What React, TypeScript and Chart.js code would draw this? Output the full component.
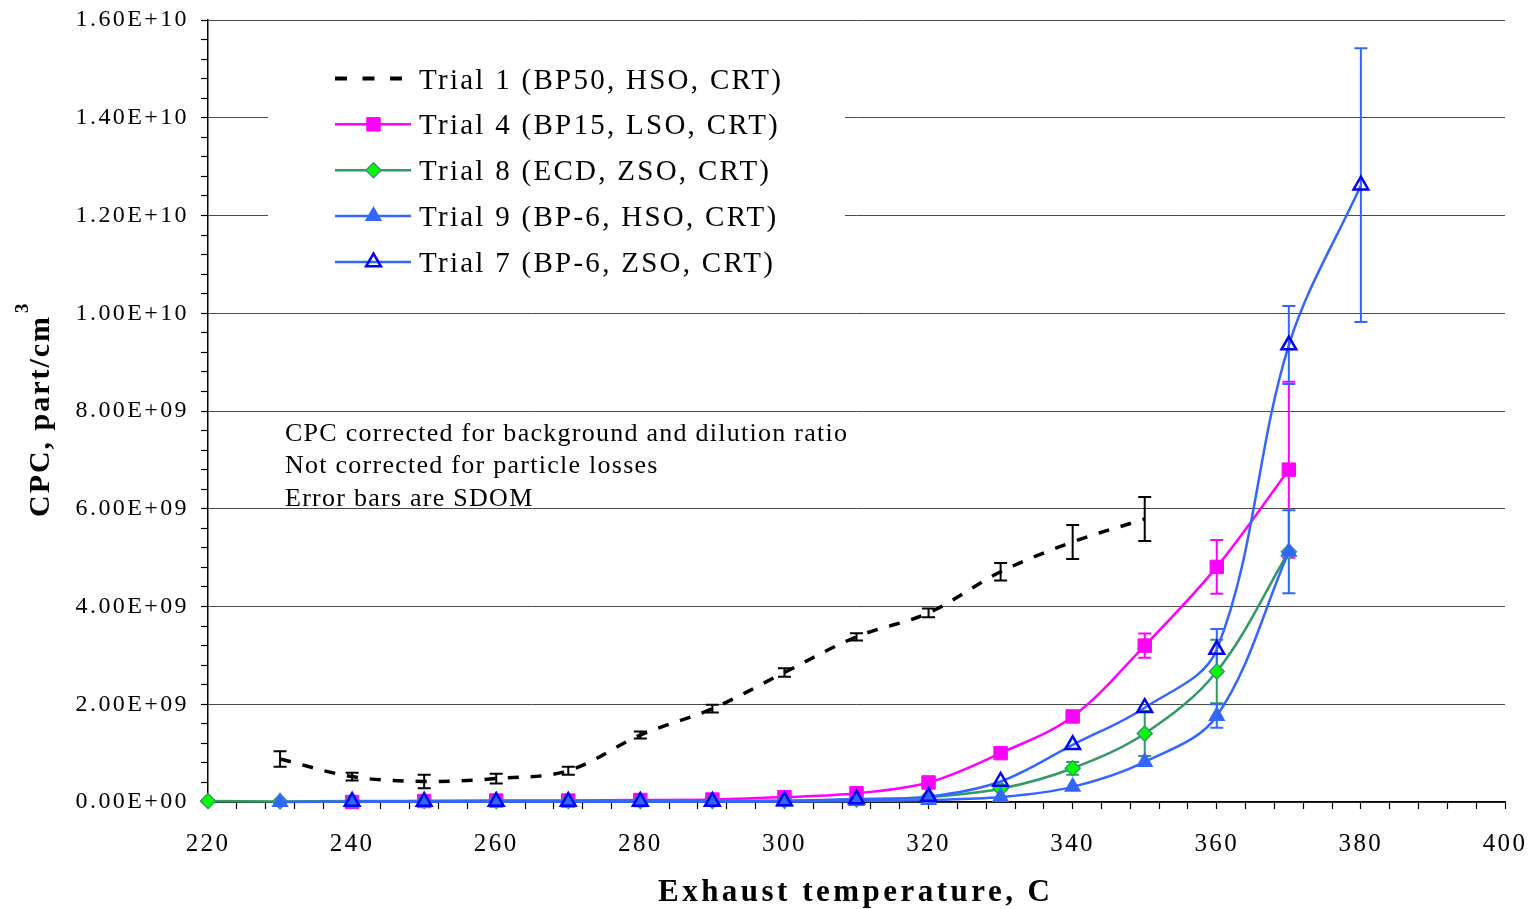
import React, { useEffect, useRef } from 'react';
import { Chart, registerables } from 'chart.js';

Chart.register(...registerables);

// ---- Data (x = exhaust temperature, C; y = CPC, part/cm3) ----
const trial1X = [230, 240, 250, 260, 270, 280, 290, 300, 310, 320, 330, 340, 350];
const trial1Y = [0.88e9, 0.52e9, 0.42e9, 0.48e9, 0.64e9, 1.37e9, 1.91e9, 2.65e9, 3.38e9, 3.87e9, 4.71e9, 5.32e9, 5.79e9];
const trial1Err = [0.16e9, 0.08e9, 0.14e9, 0.1e9, 0.08e9, 0.07e9, 0.08e9, 0.085e9, 0.075e9, 0.09e9, 0.18e9, 0.35e9, 0.45e9];

const trial4X = [240, 250, 260, 270, 280, 290, 300, 310, 320, 330, 340, 350, 360, 370];
const trial4Y = [0.0e9, 0.02e9, 0.03e9, 0.03e9, 0.04e9, 0.05e9, 0.1e9, 0.18e9, 0.4e9, 1.0e9, 1.75e9, 3.2e9, 4.81e9, 6.8e9];
const trial4Err = [0, 0, 0, 0, 0, 0, 0, 0, 0, 0, 0.04e9, 0.25e9, 0.55e9, 1.8e9];

const trial8X = [220, 230, 240, 250, 260, 270, 280, 290, 300, 310, 320, 330, 340, 350, 360, 370];
const trial8Y = [0.02e9, 0.01e9, 0.02e9, 0.02e9, 0.02e9, 0.02e9, 0.02e9, 0.02e9, 0.03e9, 0.05e9, 0.1e9, 0.27e9, 0.69e9, 1.4e9, 2.67e9, 5.12e9];
const trial8Err = [0, 0, 0, 0, 0, 0, 0, 0, 0, 0, 0, 0, 0.13e9, 0.46e9, 0.65e9, 0];

const trial9X = [230, 240, 250, 260, 270, 280, 290, 300, 310, 320, 330, 340, 350, 360, 370];
const trial9Y = [0.0e9, 0.01e9, 0.01e9, 0.01e9, 0.01e9, 0.01e9, 0.01e9, 0.01e9, 0.02e9, 0.04e9, 0.1e9, 0.31e9, 0.82e9, 1.76e9, 5.12e9];
const trial9Err = [0, 0, 0, 0, 0, 0, 0, 0, 0, 0, 0, 0, 0, 0.24e9, 0.85e9];

const trial7X = [240, 250, 260, 270, 280, 290, 300, 310, 320, 330, 340, 350, 360, 370, 380];
const trial7Y = [0.01e9, 0.01e9, 0.01e9, 0.01e9, 0.01e9, 0.01e9, 0.02e9, 0.06e9, 0.11e9, 0.42e9, 1.17e9, 1.93e9, 3.12e9, 9.35e9, 12.62e9];
const trial7Err = [0, 0, 0, 0, 0, 0, 0, 0, 0, 0, 0, 0, 0.42e9, 0.8e9, 2.8e9];

const legendLabels = [
  'Trial 1 (BP50, HSO, CRT)',
  'Trial 4 (BP15, LSO, CRT)',
  'Trial 8 (ECD, ZSO, CRT)',
  'Trial 9 (BP-6, HSO, CRT)',
  'Trial 7 (BP-6, ZSO, CRT)',
];
const noteLines = [
  'CPC corrected for background and dilution ratio',
  'Not corrected for particle losses',
  'Error bars are SDOM',
];
const xTitle = 'Exhaust temperature, C';
const yTitleMain = 'CPC, part/cm';
const yTitleSup = '3';

const X_MIN = 220;
const X_MAX = 400;
const X_STEP = 4;
const X_MAJOR = 20;
const Y_MIN = 0;
const Y_MAX = 1.6e10;
const Y_STEP = 4e8;
const Y_MAJOR = 2e9;

const SERIF = "'Liberation Serif', 'Times New Roman', serif";

const pts = (xs: number[], ys: number[]) => xs.map((x, i) => ({ x, y: ys[i] }));

function sci(v: number): string {
  if (v === 0) return '0.00E+00';
  const e = Math.floor(Math.log10(v) + 1e-9);
  const m = v / Math.pow(10, e);
  return m.toFixed(2) + 'E+' + String(e).padStart(2, '0');
}

const isMultiple = (v: number, step: number) => {
  const r = v / step;
  return Math.abs(r - Math.round(r)) < 1e-6;
};

type Style = {
  line: string;
  dash?: number[];
  width: number;
  marker: 'none' | 'rect' | 'rectRot' | 'triangle';
  fill: string;
  stroke: string;
  radius: number;
  strokeWidth: number;
};

const styles: Style[] = [
  { line: '#000000', dash: [11, 12], width: 3.5, marker: 'none', fill: '#000', stroke: '#000', radius: 0, strokeWidth: 0 },
  { line: '#FF00FF', width: 2.5, marker: 'rect', fill: '#FF00FF', stroke: '#FF00FF', radius: 9.5, strokeWidth: 1 },
  { line: '#339966', width: 2.5, marker: 'rectRot', fill: '#00FF00', stroke: '#339966', radius: 7.5, strokeWidth: 1.5 },
  { line: '#3366FF', width: 2.5, marker: 'triangle', fill: '#3366FF', stroke: '#3366FF', radius: 8.5, strokeWidth: 1.5 },
  { line: '#3366FF', width: 2.5, marker: 'triangle', fill: 'rgba(0,0,0,0)', stroke: '#0000FF', radius: 8.5, strokeWidth: 2.5 },
];

const errors = [trial1Err, trial4Err, trial8Err, trial9Err, trial7Err];

function drawMarker(ctx: CanvasRenderingContext2D, s: Style, x: number, y: number) {
  if (s.marker === 'none') return;
  ctx.save();
  ctx.beginPath();
  const r = s.radius;
  if (s.marker === 'rect') {
    const h = r * Math.SQRT1_2;
    ctx.rect(x - h, y - h, 2 * h, 2 * h);
  } else if (s.marker === 'rectRot') {
    ctx.moveTo(x - r, y);
    ctx.lineTo(x, y - r);
    ctx.lineTo(x + r, y);
    ctx.lineTo(x, y + r);
    ctx.closePath();
  } else {
    for (let k = 0; k < 3; k++) {
      const a = (k * 2 * Math.PI) / 3;
      const px = x + Math.sin(a) * r;
      const py = y - Math.cos(a) * r;
      if (k === 0) ctx.moveTo(px, py);
      else ctx.lineTo(px, py);
    }
    ctx.closePath();
  }
  ctx.fillStyle = s.fill;
  ctx.fill();
  if (s.strokeWidth > 0) {
    ctx.lineWidth = s.strokeWidth;
    ctx.strokeStyle = s.stroke;
    ctx.stroke();
  }
  ctx.restore();
}

function spacingFor(ctx: CanvasRenderingContext2D, text: string, font: string, target: number) {
  ctx.font = font;
  (ctx as any).letterSpacing = '0px';
  const w = ctx.measureText(text).width;
  const n = Array.from(text).length;
  return n > 1 ? (target - w) / (n - 1) : 0;
}

const errorBarPlugin = {
  id: 'errorBars',
  beforeDatasetsDraw(chart: any) {
    const ctx: CanvasRenderingContext2D = chart.ctx;
    const xs = chart.scales.x;
    const ys = chart.scales.y;
    ctx.save();
    chart.data.datasets.forEach((ds: any, i: number) => {
      const errs = errors[i];
      ctx.strokeStyle = styles[i].line;
      ctx.lineWidth = 2;
      ctx.setLineDash([]);
      ds.data.forEach((p: any, j: number) => {
        const e = errs[j];
        if (!e) return;
        const px = xs.getPixelForValue(p.x);
        const top = ys.getPixelForValue(p.y + e);
        const bot = ys.getPixelForValue(p.y - e);
        const cap = 6.5;
        ctx.beginPath();
        ctx.moveTo(px, top);
        ctx.lineTo(px, bot);
        ctx.moveTo(px - cap, top);
        ctx.lineTo(px + cap, top);
        ctx.moveTo(px - cap, bot);
        ctx.lineTo(px + cap, bot);
        ctx.stroke();
      });
    });
    ctx.restore();
  },
};

const textPlugin = {
  id: 'texts',
  beforeDraw(chart: any) {
    (chart.ctx as any).letterSpacing = '2.4px';
  },
  afterDraw(chart: any) {
    const ctx: CanvasRenderingContext2D = chart.ctx;
    ctx.save();
    (ctx as any).letterSpacing = '0px';

    // legend
    ctx.fillStyle = '#ffffff';
    ctx.fillRect(268, 48, 577, 240);
    const legFont = `29px ${SERIF}`;
    const legSp = spacingFor(ctx, legendLabels[0], legFont, 362);
    const rows = [78.5, 124.3, 170.2, 216.1, 262];
    legendLabels.forEach((lab, i) => {
      const y = rows[i];
      const s = styles[i];
      ctx.save();
      ctx.strokeStyle = s.line;
      ctx.lineWidth = i === 0 ? 4 : s.width;
      if (s.dash) ctx.setLineDash([12, 15.5]);
      ctx.beginPath();
      ctx.moveTo(335, y);
      ctx.lineTo(411, y);
      ctx.stroke();
      ctx.restore();
      drawMarker(ctx, s, 373.5, y);
      ctx.fillStyle = '#000';
      ctx.font = legFont;
      ctx.textAlign = 'left';
      ctx.textBaseline = 'alphabetic';
      (ctx as any).letterSpacing = legSp + 'px';
      ctx.fillText(lab, 419, y + 10);
      (ctx as any).letterSpacing = '0px';
    });

    // note text
    const noteFont = `26px ${SERIF}`;
    const noteSp = spacingFor(ctx, noteLines[0], noteFont, 562);
    const noteBase = [440.5, 473, 505.5];
    ctx.fillStyle = '#000';
    noteLines.forEach((t, i) => {
      ctx.font = noteFont;
      (ctx as any).letterSpacing = noteSp + 'px';
      ctx.fillText(t, 285, noteBase[i]);
    });
    (ctx as any).letterSpacing = '0px';

    // x title
    const xtFont = `bold 31px ${SERIF}`;
    const xtSp = spacingFor(ctx, xTitle, xtFont, 392);
    ctx.font = xtFont;
    (ctx as any).letterSpacing = xtSp + 'px';
    ctx.fillText(xTitle, 658, 901);
    (ctx as any).letterSpacing = '0px';

    // y title (rotated)
    const ytFont = `bold 30px ${SERIF}`;
    const ytSp = spacingFor(ctx, yTitleMain, ytFont, 200);
    ctx.save();
    ctx.translate(49, 517);
    ctx.rotate(-Math.PI / 2);
    ctx.font = ytFont;
    (ctx as any).letterSpacing = ytSp + 'px';
    ctx.fillText(yTitleMain, 0, 0);
    (ctx as any).letterSpacing = '0px';
    ctx.font = `bold 19px ${SERIF}`;
    ctx.fillText(yTitleSup, 204, -21);
    ctx.restore();

    ctx.restore();
  },
};

export default function App() {
  const ref = useRef<HTMLCanvasElement | null>(null);

  useEffect(() => {
    if (!ref.current) return;
    const mk = (label: string, xs: number[], ys: number[], i: number, order: number) => {
      const s = styles[i];
      return {
        label,
        data: pts(xs, ys),
        order,
        borderColor: s.line,
        borderWidth: s.width,
        borderDash: s.dash || [],
        pointStyle: s.marker === 'none' ? 'circle' : s.marker,
        pointRadius: s.radius,
        pointHoverRadius: s.radius,
        pointBackgroundColor: s.fill,
        pointBorderColor: s.stroke,
        pointBorderWidth: s.strokeWidth,
        tension: 0.35,
        fill: false,
        clip: false as any,
      };
    };
    const chart = new Chart(ref.current, {
      type: 'line',
      data: {
        datasets: [
          mk(legendLabels[0], trial1X, trial1Y, 0, 5),
          mk(legendLabels[1], trial4X, trial4Y, 1, 4),
          mk(legendLabels[2], trial8X, trial8Y, 2, 3),
          mk(legendLabels[3], trial9X, trial9Y, 3, 2),
          mk(legendLabels[4], trial7X, trial7Y, 4, 1),
        ] as any,
      },
      options: {
        animation: false,
        responsive: false,
        devicePixelRatio: 1,
        layout: { padding: { left: 0, top: 20, right: 23, bottom: 0 } },
        plugins: { legend: { display: false }, tooltip: { enabled: false } },
        scales: {
          x: {
            type: 'linear',
            min: X_MIN,
            max: X_MAX,
            afterFit: (s: any) => {
              s.height = 107;
              s.paddingLeft = 0;
              s.paddingRight = 0;
            },
            ticks: {
              stepSize: X_STEP,
              autoSkip: false,
              maxRotation: 0,
              padding: 20,
              color: '#000',
              font: { family: SERIF, size: 25 },
              callback: (v: any) => (isMultiple(Number(v), X_MAJOR) ? String(v) : ''),
            },
            grid: {
              drawOnChartArea: false,
              tickLength: 7,
              tickColor: '#000',
              tickWidth: 1.2,
            },
            border: { color: '#000', width: 1.5 },
          },
          y: {
            type: 'linear',
            min: Y_MIN,
            max: Y_MAX,
            afterFit: (s: any) => {
              s.width = 208;
              s.paddingTop = 0;
              s.paddingBottom = 0;
            },
            ticks: {
              stepSize: Y_STEP,
              autoSkip: false,
              padding: 12,
              color: '#000',
              font: { family: SERIF, size: 24 },
              callback: (v: any) => (isMultiple(Number(v), Y_MAJOR) ? sci(Number(v)) : ''),
            },
            grid: {
              color: (c: any) => (c.tick && isMultiple(c.tick.value, Y_MAJOR) ? '#4a4a4a' : 'rgba(0,0,0,0)'),
              lineWidth: 1,
              tickLength: 7,
              tickColor: '#000',
              tickWidth: 1.2,
            },
            border: { color: '#000', width: 1.5 },
          },
        },
      } as any,
      plugins: [errorBarPlugin, textPlugin],
    });
    return () => chart.destroy();
  }, []);

  return (
    <div style={{ position: 'absolute', left: 0, top: 0, width: 1528, height: 909, background: '#fff' }}>
      <canvas ref={ref} width={1528} height={909} style={{ display: 'block' }} />
    </div>
  );
}
